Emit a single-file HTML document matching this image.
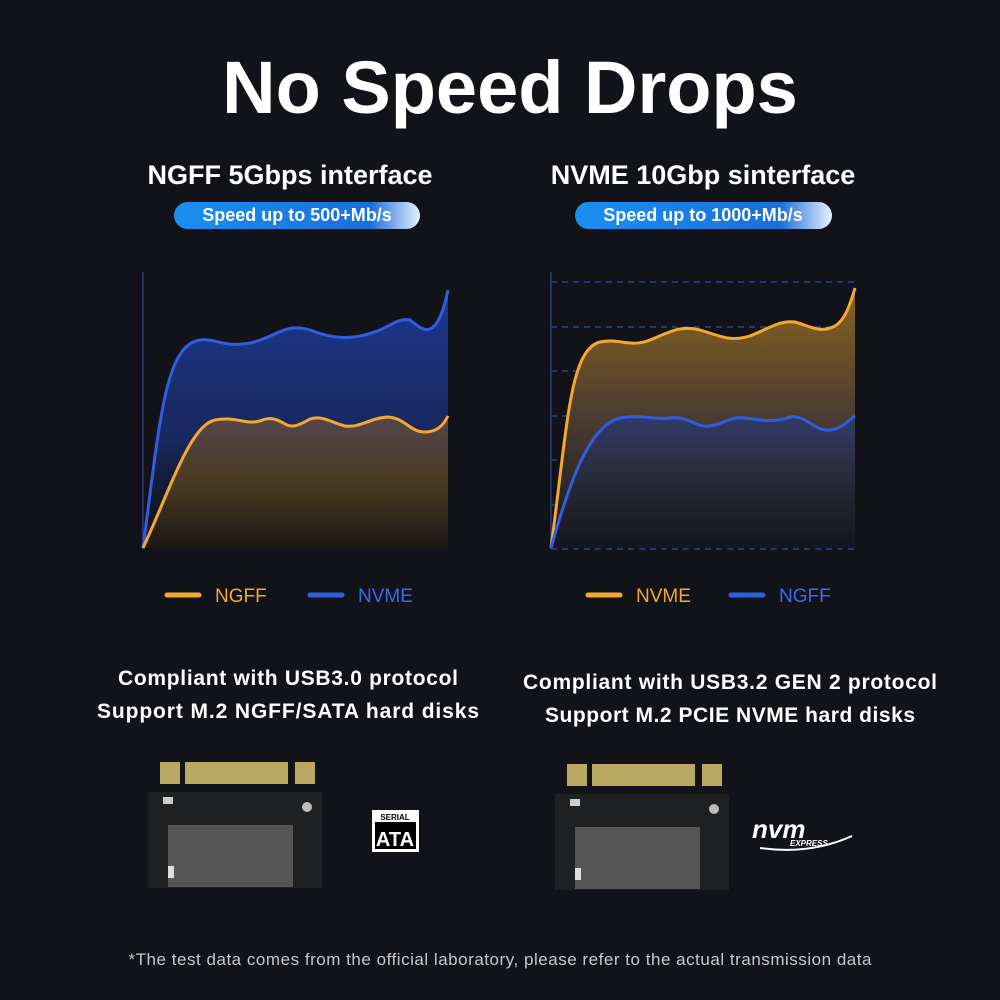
<!DOCTYPE html><html><head><style>
body{margin:0;width:1000px;height:1000px;background:#111319;font-family:"Liberation Sans",sans-serif;color:#fff;overflow:hidden}
</style></head><body>
<svg width="1000" height="1000" xmlns="http://www.w3.org/2000/svg" style="position:absolute;left:0;top:0" fill="#fff">
<defs>
<linearGradient id="pill" x1="0" x2="1"><stop offset="0" stop-color="#1a8ff0"/><stop offset="0.8" stop-color="#1a70d8"/><stop offset="1" stop-color="#e8f0ff"/></linearGradient>
<linearGradient id="bf" x1="0" y1="0" x2="0" y2="1"><stop offset="0" stop-color="#1e3c9e" stop-opacity=".9"/><stop offset=".6" stop-color="#1a2f78" stop-opacity=".7"/><stop offset="1" stop-color="#111319" stop-opacity=".2"/></linearGradient>
<linearGradient id="of" x1="0" y1="0" x2="0" y2="1"><stop offset="0" stop-color="#5a4a4a" stop-opacity=".9"/><stop offset=".5" stop-color="#4a3a20"/><stop offset="1" stop-color="#1a1814"/></linearGradient>
<linearGradient id="of2" x1="0" y1="0" x2="0" y2="1"><stop offset="0" stop-color="#8a6420"/><stop offset=".5" stop-color="#4a3c30"/><stop offset="1" stop-color="#141620"/></linearGradient>
<linearGradient id="bf2" x1="0" y1="0" x2="0" y2="1"><stop offset="0" stop-color="#203a90" stop-opacity=".6"/><stop offset="1" stop-color="#111319" stop-opacity=".1"/></linearGradient>
</defs>
<text x="510" y="113" text-anchor="middle" font-size="74" font-weight="bold" fill="#fff">No Speed Drops</text>
<text x="290" y="184" text-anchor="middle" font-size="27" font-weight="bold" fill="#fff">NGFF 5Gbps interface</text>
<text x="703" y="184" text-anchor="middle" font-size="27" font-weight="bold" fill="#fff">NVME 10Gbp sinterface</text>
<rect x="174" y="202" width="246" height="27" rx="13.5" fill="url(#pill)"/>
<text x="297" y="221" text-anchor="middle" font-size="18" font-weight="bold" fill="#fff">Speed up to 500+Mb/s</text>
<rect x="575" y="202" width="257" height="27" rx="13.5" fill="url(#pill)"/>
<text x="703" y="221" text-anchor="middle" font-size="18" font-weight="bold" fill="#fff">Speed up to 1000+Mb/s</text>
<!-- left chart -->
<line x1="143" y1="272" x2="143" y2="549" stroke="#2a3e80" stroke-width="1.5"/>
<path d="M143,548 C160,420 165,345 200,340 C215,338 225,348 250,343 C275,338 285,322 310,330 C335,340 355,340 380,330 C395,323 400,318 410,320 C420,328 425,332 432,328 C440,322 445,305 448,290 L448,548 Z" fill="url(#bf)"/>
<path d="M143,548 C160,420 165,345 200,340 C215,338 225,348 250,343 C275,338 285,322 310,330 C335,340 355,340 380,330 C395,323 400,318 410,320 C420,328 425,332 432,328 C440,322 445,305 448,290" fill="none" stroke="#2f5ee0" stroke-width="3"/>
<path d="M143,548 C170,490 190,425 215,420 C235,416 245,425 260,421 C272,416 278,420 285,424 C292,428 298,426 310,419 C322,415 330,422 345,426 C360,428 370,418 388,417 C405,418 410,432 425,432 C438,432 444,424 448,416 L448,548 Z" fill="url(#of)"/>
<path d="M143,548 C170,490 190,425 215,420 C235,416 245,425 260,421 C272,416 278,420 285,424 C292,428 298,426 310,419 C322,415 330,422 345,426 C360,428 370,418 388,417 C405,418 410,432 425,432 C438,432 444,424 448,416" fill="none" stroke="#f5a830" stroke-width="3"/>
<!-- right chart -->
<g stroke="#2e4fa8" stroke-width="1.2" stroke-dasharray="6,5">
<line x1="551" y1="282" x2="858" y2="282"/><line x1="551" y1="327" x2="858" y2="327"/><line x1="551" y1="371" x2="858" y2="371"/><line x1="551" y1="416" x2="858" y2="416"/><line x1="551" y1="460" x2="858" y2="460"/><line x1="551" y1="505" x2="858" y2="505"/><line x1="551" y1="549" x2="858" y2="549"/>
</g>
<line x1="551" y1="272" x2="551" y2="549" stroke="#2a3e80" stroke-width="1.5"/>
<path d="M551,548 C568,420 570,350 600,342 C620,338 630,348 650,340 C670,332 680,325 700,330 C720,336 730,342 750,336 C770,328 780,320 795,322 C810,326 820,334 835,326 C845,320 850,305 855,288 L855,548 Z" fill="url(#of2)"/>
<path d="M551,548 C568,420 570,350 600,342 C620,338 630,348 650,340 C670,332 680,325 700,330 C720,336 730,342 750,336 C770,328 780,320 795,322 C810,326 820,334 835,326 C845,320 850,305 855,288" fill="none" stroke="#f5a830" stroke-width="3"/>
<path d="M551,548 C570,480 590,425 620,418 C640,414 655,420 670,418 C690,416 695,428 710,426 C725,424 730,416 745,418 C760,420 775,423 790,417 C805,414 815,432 830,430 C845,428 850,418 855,416 L855,548 Z" fill="url(#bf2)"/>
<path d="M551,548 C570,480 590,425 620,418 C640,414 655,420 670,418 C690,416 695,428 710,426 C725,424 730,416 745,418 C760,420 775,423 790,417 C805,414 815,432 830,430 C845,428 850,418 855,416" fill="none" stroke="#2f5ee0" stroke-width="3"/>
<!-- legends -->
<line x1="167" y1="595" x2="199" y2="595" stroke="#f5a830" stroke-width="5" stroke-linecap="round"/>
<text x="215" y="602" font-size="19" fill="#f5a830">NGFF</text>
<line x1="310" y1="595" x2="342" y2="595" stroke="#2f5ee0" stroke-width="5" stroke-linecap="round"/>
<text x="358" y="602" font-size="19" fill="#3b6af0">NVME</text>
<line x1="588" y1="595" x2="620" y2="595" stroke="#f5a830" stroke-width="5" stroke-linecap="round"/>
<text x="636" y="602" font-size="19" fill="#f5a830">NVME</text>
<line x1="731" y1="595" x2="763" y2="595" stroke="#2f5ee0" stroke-width="5" stroke-linecap="round"/>
<text x="779" y="602" font-size="19" fill="#3b6af0">NGFF</text>
<!-- descriptions -->
<g font-size="21" fill="#fff" font-weight="bold" text-anchor="middle">
<text x="288" y="685" textLength="340">Compliant  with USB3.0 protocol</text>
<text x="288" y="718" textLength="382">Support M.2  NGFF/SATA hard disks</text>
<text x="730" y="689" textLength="414">Compliant  with USB3.2 GEN 2 protocol</text>
<text x="730" y="722" textLength="370">Support M.2 PCIE NVME hard disks</text>
</g>
<!-- boards -->
<g id="b1">
<rect x="160" y="762" width="20" height="22" fill="#b8a860"/><rect x="185" y="762" width="103" height="22" fill="#b8a860"/><rect x="295" y="762" width="20" height="22" fill="#b8a860"/>
<rect x="148" y="792" width="174" height="96" fill="#1f2022"/>
<rect x="168" y="825" width="125" height="62" fill="#555"/>
<circle cx="307" cy="807" r="5" fill="#bbb"/>
<rect x="163" y="797" width="10" height="7" fill="#ccc"/><rect x="168" y="866" width="6" height="12" fill="#ddd"/>
</g>
<use href="#b1" x="407" y="2"/>
<rect x="372" y="810" width="47" height="42" fill="#fff"/>
<rect x="375" y="822" width="41" height="27" fill="#000"/>
<text x="395" y="820" text-anchor="middle" font-size="8" font-weight="bold" fill="#000">SERIAL</text>
<text x="395" y="846" text-anchor="middle" font-size="20" font-weight="bold" fill="#fff">ATA</text>
<text x="752" y="838" font-size="26" font-style="italic" font-weight="bold" fill="#fff">nvm</text>
<text x="790" y="846" font-size="8" font-style="italic" font-weight="bold" fill="#fff">EXPRESS</text>
<path d="M760,848 Q810,855 852,836" fill="none" stroke="#fff" stroke-width="2"/>
<text x="500" y="965" text-anchor="middle" font-size="17" fill="#c8c8c8" textLength="743">*The test data comes from the official laboratory, please refer to the actual transmission data</text>
</svg>
</body></html>
